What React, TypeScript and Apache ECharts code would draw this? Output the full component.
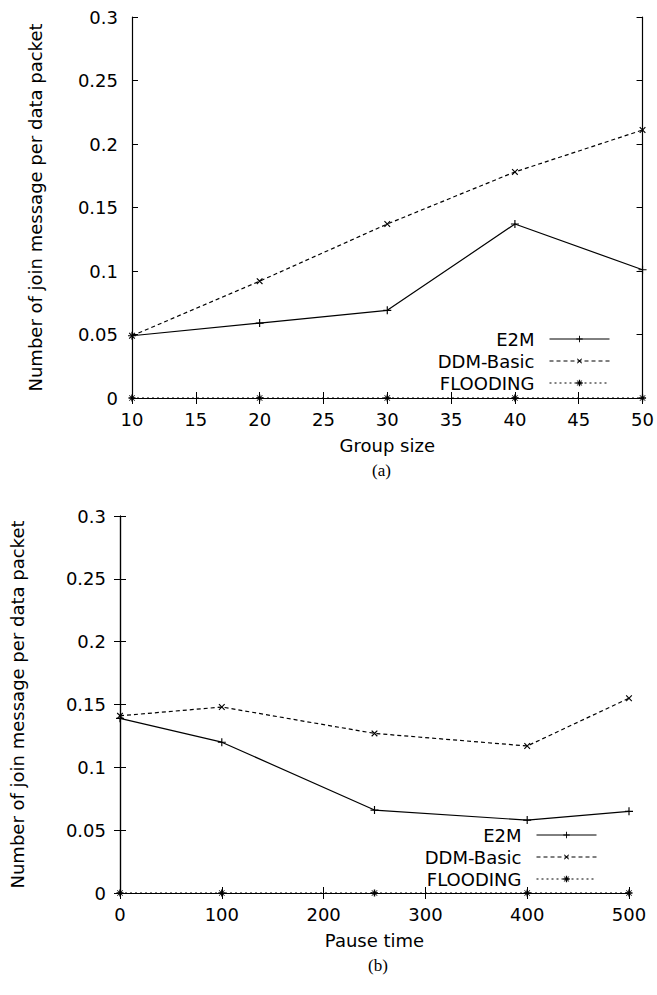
import React, { useEffect, useRef } from 'react';
import * as echarts from 'echarts';

const groupSizes = [10, 20, 30, 40, 50];
const e2mGroup = [0.049, 0.059, 0.069, 0.137, 0.101];
const ddmGroup = [0.049, 0.092, 0.137, 0.178, 0.211];
const floodGroup = [0, 0, 0, 0, 0];

const pauseTimes = [0, 100, 250, 400, 500];
const e2mPause = [0.139, 0.12, 0.066, 0.058, 0.065];
const ddmPause = [0.141, 0.148, 0.127, 0.117, 0.155];
const floodPause = [0, 0, 0, 0, 0];

const seriesNames = ['E2M', 'DDM-Basic', 'FLOODING'];
const yTitle = 'Number of join message per data packet';
const xTitles = ['Group size', 'Pause time'];
const captions = ['(a)', '(b)'];

const FONT = '"DejaVu Sans", sans-serif';
const PLUS = 'path://M3,0H4V3H7V4H4V7H3V4H0V3H3Z';
const STAR =
  'path://M4,0H6V4H10V6H6V10H4V6H0V4H4Z M0.7,1.4L1.4,0.7L9.3,8.6L8.6,9.3Z M8.6,0.7L9.3,1.4L1.4,9.3L0.7,8.6Z M3,3H7V7H3Z';

function pairs(xs: number[], ys: number[]) {
  return xs.map((x, i) => [x, ys[i]]);
}

export default function App() {
  const ref = useRef<HTMLDivElement>(null);
  useEffect(() => {
    if (!ref.current) return;
    const chart = echarts.init(ref.current, undefined, { renderer: 'svg' });
    const grids = [
      { left: 132, top: 17, width: 511, height: 381 },
      { left: 120, top: 516, width: 509, height: 377 },
    ];
    const xRanges = [
      { min: 10, max: 50, interval: 5 },
      { min: 0, max: 500, interval: 100 },
    ];
    const yNameGaps = [88, 94];
    const axisLine = { show: true, lineStyle: { color: '#000', width: 1.2 } };
    const tick = { show: true, inside: true, length: 6, lineStyle: { color: '#000', width: 1 } };
    const label = { fontFamily: FONT, fontSize: 18, color: '#000' };
    const xAxis: any[] = [];
    const yAxis: any[] = [];
    [0, 1].forEach((g) => {
      xAxis.push({
        type: 'value', gridIndex: g, ...xRanges[g], position: 'bottom',
        axisLine, axisTick: tick, splitLine: { show: false },
        axisLabel: { ...label, margin: 12 },
        name: xTitles[g], nameLocation: 'middle', nameGap: 38,
        nameTextStyle: { fontFamily: FONT, fontSize: 18, color: '#000' },
      });
      xAxis.push({
        type: 'value', gridIndex: g, ...xRanges[g], position: 'top',
        axisLine, axisTick: tick, splitLine: { show: false }, axisLabel: { show: false },
      });
      yAxis.push({
        type: 'value', gridIndex: g, min: 0, max: 0.3, interval: 0.05, position: 'left',
        axisLine, axisTick: tick, splitLine: { show: false },
        axisLabel: { ...label, margin: 14 },
        name: yTitle, nameLocation: 'middle', nameGap: yNameGaps[g],
        nameTextStyle: { fontFamily: FONT, fontSize: 18, color: '#000' },
      });
      yAxis.push({
        type: 'value', gridIndex: g, min: 0, max: 0.3, interval: 0.05, position: 'right',
        axisLine, axisTick: tick, splitLine: { show: false }, axisLabel: { show: false },
      });
    });
    const styles = [
      { type: 'solid', symbol: PLUS, size: 8, rotate: 0 },
      { type: [4, 3], symbol: PLUS, size: 8, rotate: 45 },
      { type: [2, 3], symbol: STAR, size: 7, rotate: 0 },
    ];
    const data = [
      [pairs(groupSizes, e2mGroup), pairs(groupSizes, ddmGroup), pairs(groupSizes, floodGroup)],
      [pairs(pauseTimes, e2mPause), pairs(pauseTimes, ddmPause), pairs(pauseTimes, floodPause)],
    ];
    const series: any[] = [];
    [0, 1].forEach((g) => {
      seriesNames.forEach((name, i) => {
        series.push({
          type: 'line', name, xAxisIndex: g * 2, yAxisIndex: g * 2,
          data: data[g][i],
          symbol: styles[i].symbol, symbolSize: styles[i].size, symbolRotate: styles[i].rotate,
          showAllSymbol: true, clip: false,
          lineStyle: { color: '#000', width: 1.2, type: styles[i].type },
          itemStyle: { color: '#000' },
          z: 3 - i,
        });
      });
    });
    const legendBase = {
      data: seriesNames, orient: 'vertical', align: 'right',
      itemWidth: 60, itemHeight: 8, itemGap: 4,
      selectedMode: false,
      lineStyle: { width: 1 },
      textStyle: { fontFamily: FONT, fontSize: 18, color: '#000', padding: [0, 10, 0, 0] },
    };
    chart.setOption({
      animation: false,
      backgroundColor: '#fff',
      grid: grids.map((g) => ({ ...g, containLabel: false })),
      xAxis, yAxis, series,
      legend: [
        { ...legendBase, right: 42, top: 325 },
        { ...legendBase, right: 55, top: 821 },
      ],
      graphic: [
        { type: 'text', left: 372, top: 462, style: { text: captions[0], font: '17px "Liberation Serif", serif', fill: '#000' } },
        { type: 'text', left: 368, top: 957, style: { text: captions[1], font: '17px "Liberation Serif", serif', fill: '#000' } },
      ],
    });
    return () => chart.dispose();
  }, []);
  return (
    <div
      ref={ref}
      style={{ position: 'fixed', left: 0, top: 0, width: 657, height: 995, background: '#fff' }}
    />
  );
}
